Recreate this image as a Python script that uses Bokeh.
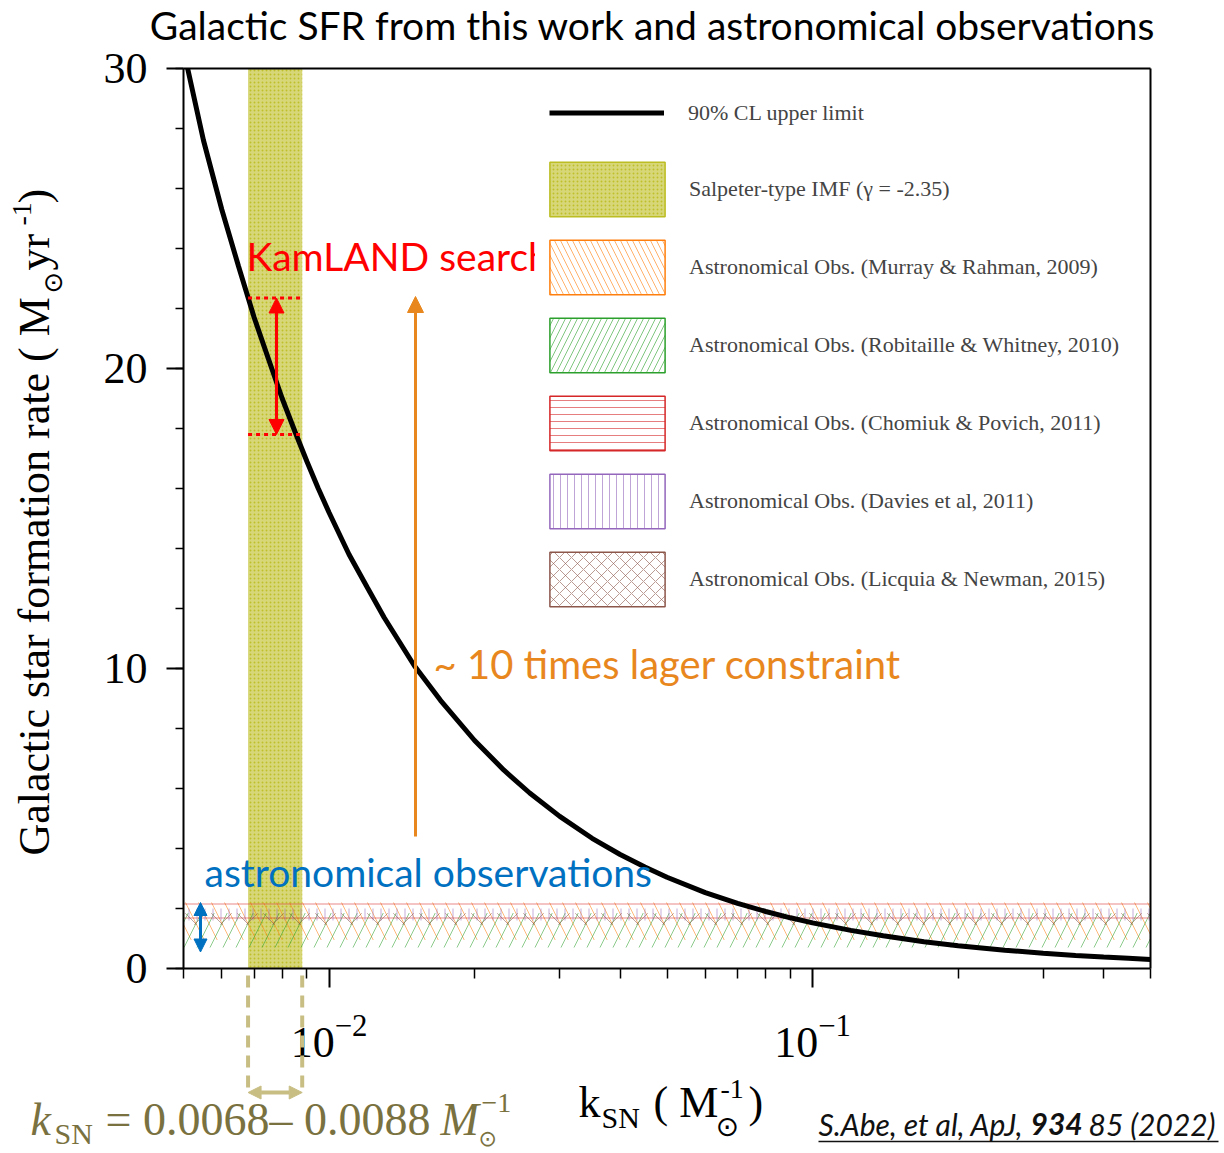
import math
from bokeh.plotting import figure
from bokeh.models import (Label, Arrow, NormalHead, Legend, LegendItem, FixedTicker,
                          SingleIntervalTicker, Range1d, LogAxis, LinearAxis)
from bokeh.core.properties import value
from bokeh.embed import file_html
from bokeh.resources import INLINE

# ---------------- data ----------------
K_SN = [0.0051, 0.0055, 0.006, 0.0065, 0.007, 0.0075, 0.008, 0.0085, 0.009, 0.0095,
        0.010, 0.011, 0.012, 0.013, 0.015, 0.017, 0.020, 0.023, 0.026, 0.030,
        0.035, 0.040, 0.045, 0.050, 0.060, 0.070, 0.080, 0.090, 0.100, 0.120,
        0.140, 0.170, 0.200, 0.250, 0.300, 0.350, 0.400, 0.450, 0.500]
SFR_LIMIT = [30.0, 27.6, 25.3, 23.4, 21.7, 20.3, 19.0, 17.9, 16.9, 16.0,
             15.2, 13.8, 12.7, 11.7, 10.1, 8.94, 7.60, 6.61, 5.85, 5.07,
             4.34, 3.80, 3.38, 3.04, 2.53, 2.17, 1.90, 1.69, 1.52, 1.27,
             1.09, 0.89, 0.76, 0.61, 0.51, 0.43, 0.38, 0.34, 0.30]

SALPETER_K = [0.0068, 0.0088]

OBS_NAMES = ["Astronomical Obs. (Murray & Rahman, 2009)",
             "Astronomical Obs. (Robitaille & Whitney, 2010)",
             "Astronomical Obs. (Chomiuk & Povich, 2011)",
             "Astronomical Obs. (Davies et al, 2011)",
             "Astronomical Obs. (Licquia & Newman, 2015)"]
OBS_LOW = [0.95, 0.70, 1.50, 1.60, 1.46]
OBS_HIGH = [2.20, 1.85, 2.30, 2.00, 1.84]
OBS_COLORS = ["#ff7f0e", "#2ca02c", "#d62728", "#9467bd", "#8c564b"]
OBS_HATCH = ["left_diagonal_line", "right_diagonal_line", "horizontal_line",
             "vertical_line", "diagonal_cross"]
OBS_HATCH_SCALE = [26, 26, 14, 8, 26]

KAMLAND_RANGE = [17.8, 22.35]
ORANGE_ARROW_Y = [4.4, 22.4]
ASTRO_RANGE = [0.55, 2.2]

X_RANGE = (0.005, 0.5)
Y_RANGE = (0, 30)
X_MAJOR = [0.01, 0.1]
X_MINOR = [0.005, 0.006, 0.007, 0.008, 0.009, 0.02, 0.03, 0.04, 0.05, 0.06,
           0.07, 0.08, 0.09, 0.2, 0.3, 0.4, 0.5]

# ---------------- layout ----------------
W, H = 1224, 1153
FL, FR, FT, FB = 183, 1150, 68, 968          # plot box inside the canvas
L0, L1 = math.log10(X_RANGE[0]), math.log10(X_RANGE[1])


def dx(px):
    return 10 ** (L0 + (px - FL) / (FR - FL) * (L1 - L0))


def dy(py):
    return Y_RANGE[0] + (FB - py) / (FB - FT) * (Y_RANGE[1] - Y_RANGE[0])


SERIF = "Liberation Serif"
SANS = "Lato"
ORANGE_T = "#E8871E"
BLUE_T = "#0070C0"
OLIVE_T = "#7A7140"
OLIVE_L = "#C8BE84"
BASE_K = 0.42  # baseline correction, as a fraction of the font size

# the frame spans the whole canvas; axes are drawn at fixed locations
p = figure(width=W, height=H, x_axis_type="log", title=None,
           x_range=Range1d(dx(0), dx(W)), y_range=Range1d(dy(H), dy(0)),
           output_backend="svg", toolbar_location=None,
           min_border_left=0, min_border_right=0, min_border_top=0, min_border_bottom=0)
p.grid.visible = False
p.outline_line_color = None
p.background_fill_color = "white"
p.border_fill_color = "white"

# axes
p.yaxis.ticker = SingleIntervalTicker(interval=10, num_minor_ticks=5)
p.xaxis.ticker = FixedTicker(ticks=X_MAJOR, minor_ticks=X_MINOR)
p.xaxis.fixed_location = Y_RANGE[0]
p.yaxis.fixed_location = X_RANGE[0]
p.xaxis.bounds = X_RANGE
p.yaxis.bounds = Y_RANGE
for ax in (p.xaxis[0], p.yaxis[0]):
    ax.axis_line_width = 2
    ax.major_tick_line_width = 2
    ax.minor_tick_line_width = 1.5
    ax.major_tick_in = 0
    ax.minor_tick_in = 0
    ax.major_label_text_font = SERIF
    ax.major_label_text_font_size = "44px"
    ax.major_label_text_color = "black"
p.yaxis.major_tick_out = 17
p.yaxis.minor_tick_out = 8
p.yaxis.major_label_standoff = 19
p.xaxis.major_tick_out = 19
p.xaxis.minor_tick_out = 10
p.xaxis.major_label_standoff = 28

# top and right edges of the plot box
top_ax = LogAxis(fixed_location=Y_RANGE[1], bounds=X_RANGE, ticker=FixedTicker(ticks=[]),
                 axis_line_width=2, major_tick_out=0, minor_tick_out=0,
                 major_tick_in=0, minor_tick_in=0)
right_ax = LinearAxis(fixed_location=X_RANGE[1], bounds=Y_RANGE, ticker=FixedTicker(ticks=[]),
                      axis_line_width=2, major_tick_out=0, minor_tick_out=0,
                      major_tick_in=0, minor_tick_in=0)
p.add_layout(top_ax, "above")
p.add_layout(right_ax, "right")

# ---------------- glyphs ----------------
p.quad(left=[SALPETER_K[0]], right=[SALPETER_K[1]], bottom=[Y_RANGE[0]], top=[Y_RANGE[1]],
       fill_color="#bcbd22", fill_alpha=0.6, hatch_pattern="dot", hatch_color="#bcbd22",
       hatch_scale=4, hatch_weight=2, hatch_alpha=0.9, line_alpha=0)

for lo, hi, c, h, s in zip(OBS_LOW, OBS_HIGH, OBS_COLORS, OBS_HATCH, OBS_HATCH_SCALE):
    p.quad(left=[X_RANGE[0]], right=[X_RANGE[1]], bottom=[lo], top=[hi],
           fill_alpha=0, hatch_pattern=h, hatch_color=c, hatch_alpha=0.55,
           hatch_scale=s, hatch_weight=1, line_alpha=0)

curve = p.line(K_SN, SFR_LIMIT, line_color="black", line_width=5)

# legend-only renderers (placed outside the visible ranges)
OFF_X = [1e-5, 2e-5]
OFF_Y = [-100, -99]
leg_line = p.line(OFF_X, [OFF_Y[0], OFF_Y[0]], line_color="black", line_width=5)
leg_salp = p.quad(left=[OFF_X[0]], right=[OFF_X[1]], bottom=[OFF_Y[0]], top=[OFF_Y[1]],
                  fill_color="#bcbd22", fill_alpha=0.6, hatch_pattern="dot",
                  hatch_color="#bcbd22", hatch_scale=4, hatch_weight=2, hatch_alpha=0.9,
                  line_color="#bcbd22", line_width=1.5)
leg_obs = []
for c, h in zip(OBS_COLORS, OBS_HATCH):
    leg_obs.append(p.quad(left=[OFF_X[0]], right=[OFF_X[1]], bottom=[OFF_Y[0]], top=[OFF_Y[1]],
                          fill_alpha=0, hatch_pattern=h, hatch_color=c, hatch_alpha=0.6,
                          hatch_scale=12 if "diag" in h else 7, hatch_weight=1,
                          line_color=c, line_width=1.5))


# in-frame texts
def ftext(px, py, text, color, size=39):
    p.text(x=[dx(px)], y=[dy(py - BASE_K * size)], text=[text], text_font=value(SANS),
           text_font_size=f"{size}px", text_color=color, text_baseline="alphabetic")


ftext(246, 272, "KamLAND search", "#FF0000")
ftext(433, 680, "~ 10 times lager constraint", ORANGE_T, size=40)
ftext(204, 888, "astronomical observations", BLUE_T)

# legends: one for the line, one for the patches (location from canvas bottom-left)
LEG_X = 535
leg1 = Legend(items=[LegendItem(label="90% CL upper limit", renderers=[leg_line])],
              location=(LEG_X, H - 154), glyph_width=115, glyph_height=55,
              padding=14, margin=0, label_standoff=24,
              label_text_font=SERIF, label_text_font_size="22px",
              border_line_alpha=0, background_fill_color="white", background_fill_alpha=1)
items2 = [LegendItem(label="Salpeter-type IMF (\u03b3 = -2.35)", renderers=[leg_salp])]
for name, r in zip(OBS_NAMES, leg_obs):
    items2.append(LegendItem(label=name, renderers=[r]))
leg2 = Legend(items=items2, location=(LEG_X, H - 613), glyph_width=144, glyph_height=68,
              spacing=10, padding=0, margin=0, label_standoff=10,
              label_text_font=SERIF, label_text_font_size="22px",
              border_line_alpha=0, background_fill_color="white", background_fill_alpha=1)
p.add_layout(leg1)
p.add_layout(leg2)


# ---------------- labels ----------------
def lab(px, py, text, size, font=SERIF, color="black", align="left", style="normal",
        angle=0.0):
    if angle:
        px = px - BASE_K * size
    else:
        py = py - BASE_K * size
    p.add_layout(Label(x=dx(px), y=dy(py), text=text, text_font=font,
                       text_font_size=f"{size}px", text_color=color, text_align=align,
                       text_baseline="alphabetic", text_font_style=style, angle=angle))


lab(652, 41, "Galactic SFR from this work and astronomical observations", 39, font=SANS,
    align="center")

# x-axis label
lab(578, 1120, "k", 44)
lab(601, 1130, "SN", 30)
lab(653, 1120, "( M", 44)
lab(720, 1100, "-1", 28)
lab(715, 1138, "\u2299", 28, font="DejaVu Sans")
lab(748, 1120, ")", 44)

# y-axis label (rotated)
A = math.pi / 2
lab(52, 855, "Galactic star formation rate ( M", 44, angle=A)
lab(63, 293, "\u2299", 26, font="DejaVu Sans", angle=A)
lab(52, 270, " yr", 44, angle=A)
lab(33, 225, "-1", 28, angle=A)
lab(52, 203, " )", 44, angle=A)

# olive k_SN range formula
lab(30, 1138, "k", 46, color=OLIVE_T, style="italic")
lab(54, 1146, "SN", 30, color=OLIVE_T)
lab(105, 1138, "= 0.0068\u2013 0.0088", 46, color=OLIVE_T)
lab(440, 1138, "M", 46, color=OLIVE_T, style="italic")
lab(478, 1147, "\u2299", 22, font="DejaVu Sans", color=OLIVE_T)
lab(481, 1114, "\u22121", 28, color=OLIVE_T)

# citation
lab(818, 1136, "S.Abe, et al, ApJ,", 30, font=SANS, style="italic", color="#111111")
lab(1030, 1136, "934", 30, font=SANS, style="bold italic", color="#111111")
lab(1088, 1136, "85 (2022)", 30, font=SANS, style="italic", color="#111111")

# ---------------- arrows and guide lines ----------------
p.add_layout(Arrow(x_start=dx(818), x_end=dx(1218), y_start=dy(1141), y_end=dy(1141),
                   end=None, line_color="#111111", line_width=1.5))
for xv in SALPETER_K:
    p.add_layout(Arrow(x_start=xv, x_end=xv, y_start=dy(975), y_end=dy(1090), end=None,
                       line_color=OLIVE_L, line_width=4, line_dash="12 8"))
p.add_layout(Arrow(x_start=SALPETER_K[0], x_end=SALPETER_K[1], y_start=dy(1092), y_end=dy(1092),
                   start=NormalHead(size=13, fill_color=OLIVE_L, line_color=OLIVE_L),
                   end=NormalHead(size=13, fill_color=OLIVE_L, line_color=OLIVE_L),
                   line_color=OLIVE_L, line_width=4))

red_x = dx(276)
for yv in KAMLAND_RANGE:
    p.add_layout(Arrow(x_start=SALPETER_K[0], x_end=SALPETER_K[1], y_start=yv, y_end=yv,
                       end=None, line_color="#FF0000", line_width=3, line_dash="4 4"))
p.add_layout(Arrow(x_start=red_x, x_end=red_x, y_start=KAMLAND_RANGE[0], y_end=KAMLAND_RANGE[1],
                   start=NormalHead(size=15, fill_color="#FF0000", line_color="#FF0000"),
                   end=NormalHead(size=15, fill_color="#FF0000", line_color="#FF0000"),
                   line_color="#FF0000", line_width=3))
ox = dx(415)
p.add_layout(Arrow(x_start=ox, x_end=ox, y_start=ORANGE_ARROW_Y[0], y_end=ORANGE_ARROW_Y[1],
                   end=NormalHead(size=16, fill_color=ORANGE_T, line_color=ORANGE_T),
                   line_color=ORANGE_T, line_width=3))
bx = dx(200)
p.add_layout(Arrow(x_start=bx, x_end=bx, y_start=ASTRO_RANGE[0], y_end=ASTRO_RANGE[1],
                   start=NormalHead(size=13, fill_color=BLUE_T, line_color=BLUE_T),
                   end=NormalHead(size=13, fill_color=BLUE_T, line_color=BLUE_T),
                   line_color=BLUE_T, line_width=3))

open("out.html", "w").write(file_html(p, INLINE))
